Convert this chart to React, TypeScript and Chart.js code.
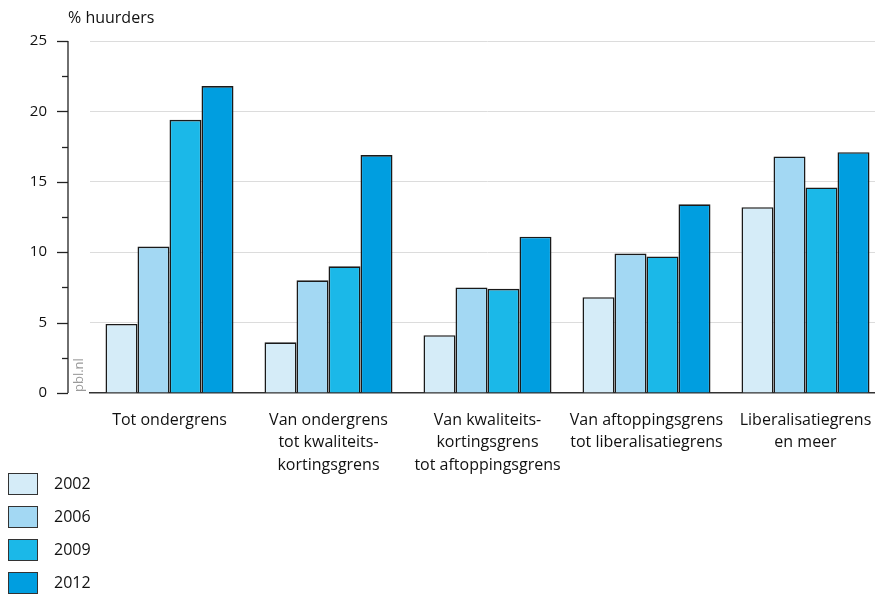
import React, { useEffect, useRef } from "react";
import { Chart, registerables } from "chart.js";

Chart.register(...registerables);

const categories: string[][] = [
  ["Tot ondergrens"],
  ["Van ondergrens", "tot kwaliteits-", "kortingsgrens"],
  ["Van kwaliteits-", "kortingsgrens", "tot aftoppingsgrens"],
  ["Van aftoppingsgrens", "tot liberalisatiegrens"],
  ["Liberalisatiegrens", "en meer"],
];
const seriesLabels = ["2002", "2006", "2009", "2012"];
const values2002 = [4.9, 3.6, 4.1, 6.8, 13.2];
const values2006 = [10.4, 8.0, 7.5, 9.9, 16.8];
const values2009 = [19.4, 9.0, 7.4, 9.7, 14.6];
const values2012 = [21.8, 16.9, 11.1, 13.4, 17.1];
const seriesColors = ["#d5ecf8", "#a3d8f3", "#1bb8e8", "#009ee0"];
const yTitle = "% huurders";
const sourceText = "pbl.nl";

const FONT = "'Open Sans', 'Noto Sans', sans-serif";

const decorPlugin = {
  id: "decor",
  afterDraw(chart: any) {
    const ctx = chart.ctx;
    const y = chart.scales.y;
    const area = chart.chartArea;
    const axisX = area.left - 22;
    ctx.save();
    // y axis line
    ctx.strokeStyle = "#222";
    ctx.lineWidth = 1.3;
    ctx.beginPath();
    ctx.moveTo(axisX, y.getPixelForValue(y.max));
    ctx.lineTo(axisX, y.getPixelForValue(y.min));
    ctx.stroke();
    // major and minor ticks
    const step = 2.5;
    for (let v = y.min; v <= y.max + 1e-6; v += step) {
      const py = Math.round(y.getPixelForValue(v)) + 0.5;
      const major = Math.abs(v % 5) < 1e-6;
      ctx.beginPath();
      ctx.moveTo(axisX - (major ? 11 : 6), py);
      ctx.lineTo(axisX, py);
      ctx.stroke();
    }
    // y title
    ctx.fillStyle = "#111";
    ctx.font = `16px ${FONT}`;
    ctx.textAlign = "left";
    ctx.textBaseline = "middle";
    ctx.fillText(yTitle, axisX, 18);
    // source text
    ctx.save();
    ctx.translate(area.left - 11, area.bottom);
    ctx.rotate(-Math.PI / 2);
    ctx.fillStyle = "#9a9a9a";
    ctx.font = `13px ${FONT}`;
    ctx.textAlign = "left";
    ctx.textBaseline = "middle";
    ctx.fillText(sourceText, 1, 0);
    ctx.restore();
    // legend
    chart.data.datasets.forEach((ds: any, i: number) => {
      const top = 473 + i * 33;
      ctx.fillStyle = ds.backgroundColor;
      ctx.fillRect(8, top, 29, 21);
      ctx.strokeStyle = "#333";
      ctx.lineWidth = 1;
      ctx.strokeRect(8.5, top + 0.5, 29, 21);
      ctx.fillStyle = "#111";
      ctx.font = `16px ${FONT}`;
      ctx.textAlign = "left";
      ctx.textBaseline = "middle";
      ctx.fillText(ds.label, 54, top + 11);
    });
    ctx.restore();
  },
};

export default function App() {
  const ref = useRef<HTMLCanvasElement>(null);
  useEffect(() => {
    if (!ref.current) return;
    const allValues = [values2002, values2006, values2009, values2012];
    const chart = new Chart(ref.current, {
      type: "bar",
      data: {
        labels: categories,
        datasets: allValues.map((vals, i) => ({
          label: seriesLabels[i],
          data: vals,
          backgroundColor: seriesColors[i],
          borderColor: "#1a1a1a",
          borderWidth: 1.6,
          categoryPercentage: 0.805,
          barPercentage: 1,
        })),
      },
      options: {
        animation: false,
        responsive: false,
        maintainAspectRatio: false,
        devicePixelRatio: 1,
        layout: { padding: { left: 0, right: 0, top: 41, bottom: 0 } },
        plugins: { legend: { display: false }, tooltip: { enabled: false } },
        scales: {
          x: {
            grid: { display: false, drawTicks: false, tickLength: 0 },
            border: { display: true, color: "#333", width: 1.5 },
            ticks: {
              color: "#111",
              font: { family: FONT, size: 16, lineHeight: 1.4 },
              padding: 16,
              maxRotation: 0,
              autoSkip: false,
            },
            afterFit(scale: any) {
              scale.height = 202;
              scale.paddingLeft = 0;
              scale.paddingRight = 0;
            },
          },
          y: {
            min: 0,
            max: 25,
            ticks: {
              stepSize: 5,
              color: "#111",
              font: { family: FONT, size: 15 },
              padding: 43,
            },
            grid: {
              drawTicks: false,
              color: (c: any) => (c.tick && c.tick.value === 0 ? "rgba(0,0,0,0)" : "#dcdcdc"),
              lineWidth: 1,
            },
            border: { display: false },
            afterFit(scale: any) {
              scale.width = 90;
              scale.paddingTop = 0;
              scale.paddingBottom = 0;
            },
          },
        },
      },
      plugins: [decorPlugin],
    });
    return () => chart.destroy();
  }, []);
  return (
    <div
      style={{
        position: "fixed",
        left: 0,
        top: 0,
        width: 875,
        height: 595,
        overflow: "hidden",
        background: "#fff",
      }}
    >
      <canvas ref={ref} width={885} height={595} style={{ display: "block" }} />
    </div>
  );
}
